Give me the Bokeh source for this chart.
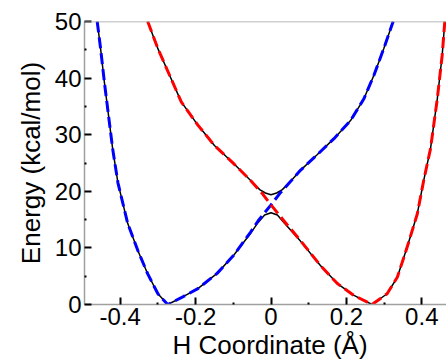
from bokeh.plotting import figure
from bokeh.models import FixedTicker, Span, Title
from bokeh.embed import file_html
from bokeh.resources import INLINE

# Diabatic curve (blue, left well)
blue_x = [-0.461, -0.452, -0.442, -0.431, -0.420, -0.406, -0.380, -0.353, -0.327, -0.300,
          -0.274, -0.238, -0.194, -0.143, -0.099, -0.054, -0.034, 0.0, 0.023, 0.054,
          0.078, 0.123, 0.167, 0.211, 0.246, 0.273, 0.299, 0.324]
blue_E = [50.0, 45.2, 39.3, 33.4, 27.5, 21.5, 14.3, 9.5, 5.4, 1.9,
          0.0, 1.2, 2.8, 5.5, 8.7, 12.8, 14.8, 17.6, 19.6, 21.9,
          23.7, 26.5, 29.3, 32.5, 36.3, 40.5, 45.2, 50.0]

# Diabatic curve (red, right well)
red_x = [-0.327, -0.300, -0.269, -0.238, -0.194, -0.150, -0.099, -0.054, -0.023, 0.0,
         0.034, 0.078, 0.131, 0.176, 0.220, 0.268, 0.308, 0.335, 0.361, 0.388,
         0.405, 0.423, 0.441, 0.454, 0.461]
red_E = [50.0, 45.2, 40.5, 35.8, 31.7, 28.1, 24.9, 21.9, 19.6, 17.6,
         14.8, 11.3, 6.9, 3.7, 1.6, 0.0, 1.9, 4.8, 10.1, 16.0,
         21.9, 27.5, 36.3, 44.0, 50.0]

# Adiabatic ground state (black)
lower_x = [-0.461, -0.452, -0.442, -0.431, -0.420, -0.406, -0.380, -0.353, -0.327, -0.300,
           -0.274, -0.238, -0.194, -0.143, -0.099, -0.054, -0.034, -0.017, 0.0, 0.017,
           0.034, 0.078, 0.131, 0.176, 0.220, 0.268, 0.308, 0.335, 0.361, 0.388,
           0.405, 0.423, 0.441, 0.454, 0.461]
lower_E = [50.0, 45.2, 39.3, 33.4, 27.5, 21.5, 14.3, 9.5, 5.4, 1.9,
           0.0, 1.2, 2.8, 5.5, 8.7, 12.6, 14.5, 15.8, 16.2, 15.8,
           14.5, 11.2, 6.9, 3.7, 1.6, 0.0, 1.9, 4.8, 10.1, 16.0,
           21.9, 27.5, 36.3, 44.0, 50.0]

# Adiabatic excited state (black)
upper_x = [-0.327, -0.300, -0.269, -0.238, -0.194, -0.150, -0.099, -0.054, -0.030, -0.015,
           0.0, 0.015, 0.030, 0.054, 0.078, 0.123, 0.167, 0.211, 0.246, 0.273,
           0.299, 0.324]
upper_E = [50.0, 45.2, 40.5, 35.8, 31.7, 28.1, 24.9, 21.9, 20.3, 19.7,
           19.4, 19.7, 20.3, 21.9, 23.7, 26.5, 29.3, 32.5, 36.3, 40.5,
           45.2, 50.0]

x_ticks = [-0.4, -0.2, 0.0, 0.2, 0.4]
x_tick_labels = ["-0.4", "-0.2", "0", "0.2", "0.4"]
x_minor = [-0.5, -0.3, -0.1, 0.1, 0.3, 0.5]
y_ticks = [0, 10, 20, 30, 40, 50]
y_minor = [5, 15, 25, 35, 45]

FONT = "Liberation Sans"

p = figure(width=446, height=362, x_range=(-0.4947, 0.4655), y_range=(0, 50),
           output_backend="svg", toolbar_location=None,
           min_border_left=84, min_border_top=21, min_border_right=0, min_border_bottom=58)
p.outline_line_color = None
p.grid.visible = False
p.background_fill_color = "white"
p.border_fill_color = "white"

p.line(lower_x, lower_E, line_color="black", line_width=1.5)
p.line(upper_x, upper_E, line_color="black", line_width=1.5)
p.line(blue_x, blue_E, line_color="#0000ff", line_width=3, line_dash="11 5")
p.line(red_x, red_E, line_color="#ff0000", line_width=3, line_dash="11 5")

p.add_layout(Span(location=50, dimension="width", line_color="#a0a0a0", line_width=1.5))

for ax in (p.xaxis[0], p.yaxis[0]):
    ax.axis_line_color = "#a0a0a0"
    ax.axis_line_width = 1.5
    ax.major_tick_line_color = "black"
    ax.major_tick_line_width = 2
    ax.minor_tick_line_color = "black"
    ax.minor_tick_line_width = 2
    ax.major_tick_in = 7
    ax.major_tick_out = 0
    ax.minor_tick_in = 2
    ax.minor_tick_out = 0
    ax.major_label_text_font = FONT
    ax.major_label_text_font_size = "24px"
    ax.major_label_text_color = "black"

p.xaxis[0].ticker = FixedTicker(ticks=x_ticks, minor_ticks=x_minor)
p.xaxis[0].major_label_overrides = {t: l for t, l in zip(x_ticks, x_tick_labels)}
p.xaxis[0].major_label_standoff = 3

p.yaxis[0].ticker = FixedTicker(ticks=y_ticks, minor_ticks=y_minor)
p.yaxis[0].major_label_standoff = 3
p.yaxis[0].axis_label = "Energy (kcal/mol)"
p.yaxis[0].axis_label_text_font = FONT
p.yaxis[0].axis_label_text_font_size = "26px"
p.yaxis[0].axis_label_text_font_style = "normal"
p.yaxis[0].axis_label_text_color = "black"
p.yaxis[0].axis_label_standoff = 6

p.add_layout(Title(text="H Coordinate (Å)", align="left", offset=88,
                   text_font=FONT, text_font_size="26px", text_font_style="normal",
                   text_color="black", standoff=0), "below")

open("out.html", "w").write(file_html(p, INLINE))
